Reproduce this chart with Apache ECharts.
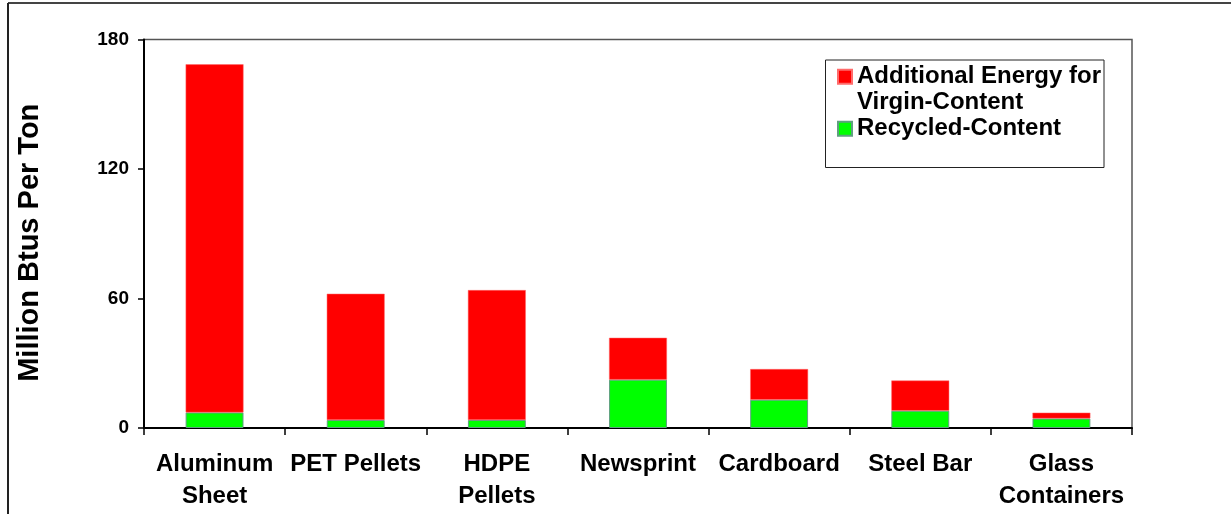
<!DOCTYPE html>
<html>
<head>
<meta charset="utf-8">
<script src="https://cdn.jsdelivr.net/npm/echarts@6/dist/echarts.min.js"></script>
<style>
  html, body { margin: 0; padding: 0; background: #fff; }
  #chart { width: 1231px; height: 514px; }
</style>
</head>
<body>
<div id="chart"></div>
<script>
// Energy needed to make each material (million Btu per ton)
const categories = ['Aluminum\nSheet', 'PET Pellets', 'HDPE\nPellets', 'Newsprint', 'Cardboard', 'Steel Bar', 'Glass\nContainers'];
const recycledContent = [7.2, 3.7, 3.7, 22.4, 13.1, 8.0, 4.4];
const additionalVirgin = [161.3, 58.5, 60.2, 19.4, 14.2, 14.0, 2.7];
const yTicks = [0, 60, 120, 180];

const seriesVirgin = 'Additional Energy for Virgin-Content';
const seriesRecycled = 'Recycled-Content';

const FONT = '"Liberation Sans", Arial, sans-serif';
const chart = echarts.init(document.getElementById('chart'), null, { renderer: 'canvas' });

const legendText = { fontFamily: FONT, fontWeight: 'bold', fontSize: 24, color: '#000', lineHeight: 25.5 };

chart.setOption({
  backgroundColor: '#fff',
  animation: false,
  grid: {
    left: 144, right: 99, top: 39.5, bottom: 86,
    show: true, borderColor: '#555', borderWidth: 1.5, backgroundColor: 'transparent'
  },
  legend: [
    {
      // empty first line keeps the icon level with "Additional Energy for"
      data: [seriesVirgin],
      orient: 'vertical', left: 837, top: 38.5, padding: 0,
      icon: 'rect', itemWidth: 14, itemHeight: 14,
      formatter: () => ' \nAdditional Energy for\nVirgin-Content',
      textStyle: legendText,
      selectedMode: false
    },
    {
      data: [seriesRecycled],
      orient: 'vertical', left: 837, top: 116, padding: 0,
      icon: 'rect', itemWidth: 14, itemHeight: 14,
      textStyle: legendText,
      selectedMode: false
    }
  ],
  graphic: [
    // outer frame (top and left edges)
    { type: 'line', shape: { x1: 8, y1: 3, x2: 1231, y2: 3 }, style: { stroke: '#444', lineWidth: 2 }, silent: true },
    { type: 'line', shape: { x1: 8, y1: 3, x2: 8, y2: 514 }, style: { stroke: '#222', lineWidth: 2 }, silent: true },
    // legend box
    { type: 'rect', shape: { x: 825.5, y: 60, width: 278.5, height: 107.5 }, style: { fill: 'none', stroke: '#222', lineWidth: 1 }, silent: true, z: -1 }
  ],
  xAxis: {
    type: 'category',
    data: categories,
    axisLine: { lineStyle: { color: '#000', width: 2 } },
    axisTick: { show: true, length: 7, lineStyle: { color: '#000', width: 1.5 } },
    axisLabel: {
      interval: 0, margin: 20,
      fontFamily: FONT, fontWeight: 'bold', fontSize: 24, lineHeight: 32, color: '#000'
    }
  },
  yAxis: {
    type: 'value',
    min: yTicks[0], max: yTicks[yTicks.length - 1], interval: 60,
    name: 'Million Btus Per Ton',
    nameLocation: 'middle', nameGap: 100, nameRotate: 90,
    nameTextStyle: { fontFamily: FONT, fontWeight: 'bold', fontSize: 29, color: '#000', padding: [0, 18, 0, 0] },
    axisLine: { show: true, lineStyle: { color: '#000', width: 2 } },
    axisTick: { show: true, length: 6, lineStyle: { color: '#000', width: 1.5 } },
    axisLabel: { margin: 15, fontFamily: FONT, fontWeight: 'bold', fontSize: 19, color: '#000' },
    splitLine: { show: false }
  },
  series: [
    {
      name: seriesRecycled, type: 'bar', stack: 'energy',
      data: recycledContent, barWidth: '41%',
      itemStyle: { color: '#00FF00', borderColor: '#5f9f80', borderWidth: 1 }
    },
    {
      name: seriesVirgin, type: 'bar', stack: 'energy',
      data: additionalVirgin, barWidth: '41%',
      itemStyle: { color: '#FF0000', borderColor: '#ff6b6b', borderWidth: 0.5 }
    }
  ]
});
</script>
</body>
</html>
